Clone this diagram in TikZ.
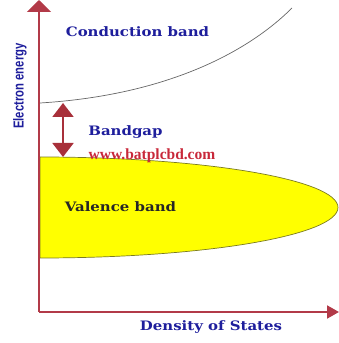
\documentclass[tikz,border=0pt]{standalone}
\usepackage{fontspec}
\setmainfont{DejaVu Serif}[FakeStretch=1.15]
\newfontfamily\webfont{Liberation Serif}
\newfontfamily\narrowfont[FakeStretch=0.78]{Liberation Sans}
\usetikzlibrary{arrows.meta}
\definecolor{cAxis}{HTML}{B23A48}
\definecolor{cGap}{HTML}{A8303A}
\definecolor{cBlue}{HTML}{1E1E9C}
\definecolor{cWeb}{HTML}{C8283A}
\definecolor{cVal}{HTML}{FFFF00}
\definecolor{cValEdge}{HTML}{7A7A20}

\begin{document}
\begin{tikzpicture}[
    x=1pt, y=1pt,
    axis/.style={cAxis, line width=2pt},
    gap/.style={{Triangle[length=14pt,width=21pt]}-{Triangle[length=14pt,width=21pt]},
                cGap, line width=2pt},
    band/.style={draw=cValEdge, line width=0.7pt, fill=cVal},
    curve/.style={draw=gray!80!black, line width=0.7pt},
    lbl/.style={font=\bfseries\fontsize{13}{15}\selectfont, text=cBlue, inner sep=0pt},
    web/.style={font=\webfont\bfseries\fontsize{15.5}{17}\selectfont, text=cWeb, inner sep=0pt},
]
\useasboundingbox (0,0) rectangle (339,343);

% ===================== Ejes =====================
\coordinate (origin) at (39,31);
\coordinate (ytop) at (39,343);
\coordinate (xend) at (339,31);

% ===================== Banda de valencia =====================
\draw[band] (40,186) arc[start angle=90, end angle=-90,
      x radius=298, y radius=50.5] -- cycle;

% ===================== Banda de conduccion =====================
\coordinate (cb0) at (40,240);
\draw[curve] (cb0) .. controls (170,248) and (250,293) .. (292,335);

\draw[axis, -{Triangle[length=12pt,width=24pt]}] (origin) -- (ytop);
\draw[axis, -{Triangle[length=12pt,width=13pt]}] (origin) -- (xend);

% ===================== Gap =====================
\coordinate (gtop) at (63,240);
\coordinate (gbot) at (63,186);
\draw[gap] (gtop) -- (gbot);

% ===================== Textos =====================
\node[lbl] (cond) at (137.5,311) {Conduction band};
\node[lbl] (bgap) at (125.5,211) {Bandgap};
\node[web] (site) at (152,187) {www.batplcbd.com};
\node[lbl, text=black!85] (val) at (120.5,136) {Valence band};
\node[lbl] (dos) at (211,16) {Density of States};
\node[font=\narrowfont\bfseries\fontsize{14.5}{16}\selectfont, text=cBlue,
      inner sep=0pt, rotate=90] (energy) at (20,257) {Electron energy};

\end{tikzpicture}
\end{document}
